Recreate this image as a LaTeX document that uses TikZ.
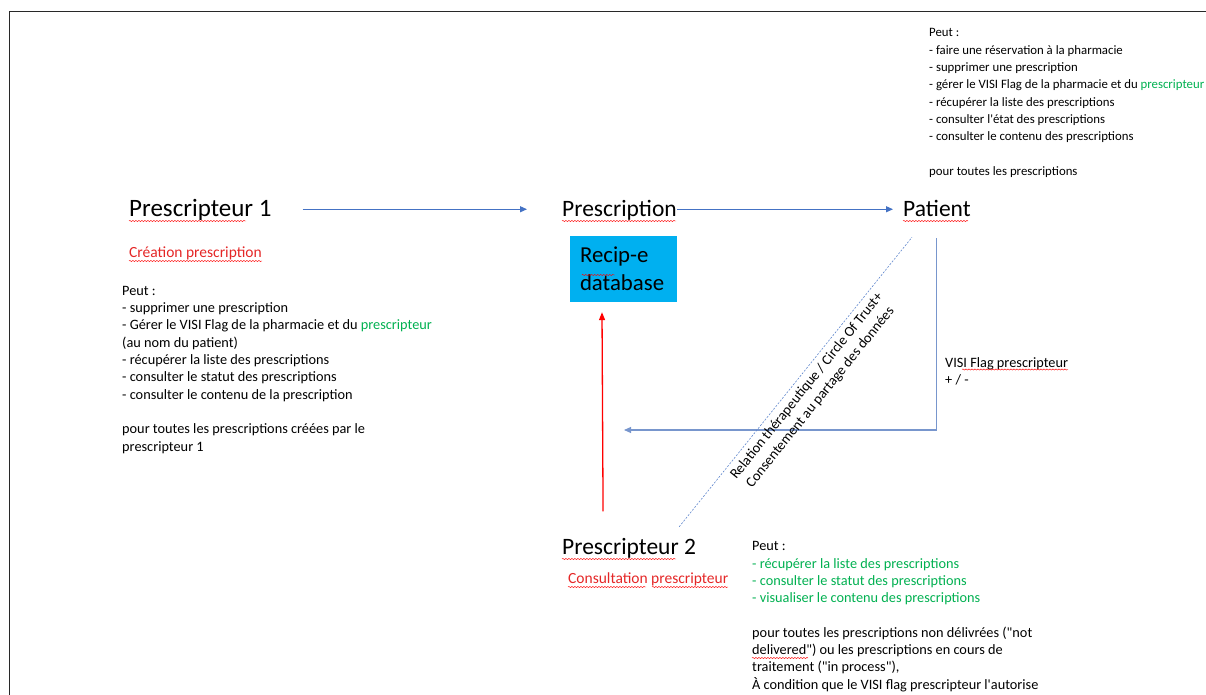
\documentclass[tikz,border=0pt]{standalone}
\usepackage{fontspec}
\setmainfont{Carlito}[Ligatures=TeXOff]
\usetikzlibrary{arrows.meta,decorations.pathmorphing}

\definecolor{arrowblue}{RGB}{68,114,196}
\definecolor{flagblue}{RGB}{120,150,205}
\definecolor{dbblue}{RGB}{0,176,240}
\definecolor{okgreen}{RGB}{0,176,80}
\definecolor{labelred}{RGB}{228,38,38}
\definecolor{framegray}{RGB}{40,40,40}

\tikzstyle{actor} = [inner sep=0pt, anchor=base west, text height=15.5pt, text depth=2pt, font=\fontsize{23.5}{28}\selectfont]
\tikzstyle{role} = [inner sep=0pt, anchor=base west, text=labelred, font=\fontsize{15.5}{19}\selectfont]
\tikzstyle{rights} = [inner sep=0pt, anchor=north west, align=left, font=\fontsize{14.3}{17.3}\selectfont]
\tikzstyle{db} = [fill=dbblue, minimum width=107pt, minimum height=66pt, text width=87pt, inner xsep=10pt, inner ysep=0pt, align=left, font=\fontsize{22.8}{28}\selectfont]
\tikzstyle{flow} = [draw=arrowblue, line width=1.1pt, -{Triangle[length=7pt,width=6pt]}]
\tikzstyle{flagline} = [draw=flagblue, line width=1.1pt, -{Triangle[length=7pt,width=6pt]}]
\tikzstyle{redflow} = [draw=red, line width=1.3pt, -{Triangle[length=8pt,width=6pt]}]
\tikzstyle{trust} = [draw=arrowblue!85, line width=0.6pt, dash pattern=on 2pt off 1.5pt]
\tikzstyle{squig} = [draw=red, line width=0.45pt, decorate, decoration={snake, amplitude=0.6pt, segment length=3pt}]

\begin{document}
\begin{tikzpicture}[x=1pt, y=-1pt]
\useasboundingbox (0,0) rectangle (1206,695);
%cadre
\draw[framegray, line width=1.4pt] (9.5,695) -- (9.5,11.7) -- (1206,11.7);
%begin acteurs
\node[actor, font=\fontsize{25}{30}\selectfont] (p1) at (129,216) {Prescripteur 1};
\node[actor] (presc) at (562,216) {Prescription};
\node[actor] (pat) at (903,216) {Patient};
\node[actor] (p2) at (562,554) {Prescripteur 2};
\node[role] (creation) at (129,257) {Création prescription};
\node[role] (consult) at (568,583) {Consultation prescripteur};
\node[db] (db) at (623.5,269) {Recip-e\\database};
%end acteurs
%begin droits
\node[rights, font=\fontsize{12.8}{17.3}\selectfont] (patrights) at (929,28.5) {Peut :\\
- faire une réservation à la pharmacie\\
- supprimer une prescription\\
- gérer le VISI Flag de la pharmacie et du \textcolor{okgreen}{prescripteur}\\
- récupérer la liste des prescriptions\\
- consulter l'état des prescriptions\\
- consulter le contenu des prescriptions\\
~\\
pour toutes les prescriptions};
\node[rights] (p1rights) at (122,286) {Peut :\\
- supprimer une prescription\\
- Gérer le VISI Flag de la pharmacie et du \textcolor{okgreen}{prescripteur}\\
(au nom du patient)\\
- récupérer la liste des prescriptions\\
- consulter le statut des prescriptions\\
- consulter le contenu de la prescription\\
~\\
pour toutes les prescriptions créées par le\\
prescripteur 1};
\node[rights] (p2rights) at (752,541.5) {Peut :\\
\textcolor{okgreen}{- récupérer la liste des prescriptions}\\
\textcolor{okgreen}{- consulter le statut des prescriptions}\\
\textcolor{okgreen}{- visualiser le contenu des prescriptions}\\
~\\
pour toutes les prescriptions non délivrées ("not\\
delivered") ou les prescriptions en cours de\\
traitement ("in process"),\\
À condition que le VISI flag prescripteur l'autorise};
\node[rights] (flag) at (945,357.5) {VISI Flag prescripteur\\+ / -};
%end droits
%begin liens
\draw[flow] ([xshift=31pt]p1.east) -- ([xshift=-35pt]presc.west);
\draw[flow] (presc.east) -- ([xshift=-10pt]pat.west);
\coordinate (flagend) at (624,430);
\draw[flagline] ([yshift=-20pt]pat.south) |- (flagend);
\draw[redflow] ([xshift=-26pt,yshift=27pt]p2.north) -- ([xshift=-21.5pt,yshift=-10pt]db.south);
\draw[trust] ([xshift=-17pt,yshift=11.5pt]p2.north east) -- node[sloped, pos=0.51, below=5pt, align=center, inner sep=0pt, font=\fontsize{14.3}{17.5}\selectfont] {Relation thérapeutique / Circle Of Trust+\\Consentement au partage des données} ([xshift=9pt,yshift=-19pt]pat.south west);
%end liens
%begin soulignages
\draw[squig] ([yshift=-5pt]p1.base west) -- +(117pt,0);
\draw[squig] ([yshift=-5pt]presc.base west) -- +(114pt,0);
\draw[squig] ([yshift=-5pt]pat.base west) -- +(65pt,0);
\draw[squig] ([yshift=-4pt]creation.base west) -- +(133pt,0);
\draw[squig] ([yshift=-5pt]p2.base west) -- +(114pt,0);
\draw[squig] ([yshift=-4pt]consult.base west) -- +(78pt,0);
\draw[squig] ([xshift=84pt,yshift=-4pt]consult.base west) -- +(76pt,0);
\draw[squig] ([xshift=12pt,yshift=-6pt]db.west) -- +(33pt,0);
\draw[squig] ([xshift=17pt,yshift=-12pt]flag.north west) -- +(106pt,0);
\draw[squig] ([yshift=-116.5pt]p2rights.north west) -- +(56pt,0);
%end soulignages
\end{tikzpicture}
\end{document}
